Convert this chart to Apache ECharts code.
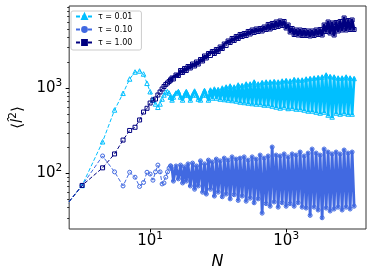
<!DOCTYPE html>
<html><head><meta charset="utf-8">
<script src="https://cdn.jsdelivr.net/npm/echarts@6/dist/echarts.min.js"></script>
<style>html,body{margin:0;padding:0;background:#fff}#c{width:373px;height:278px}</style>
</head><body><div id="c"></div>
<script>
// Shared N grid (x values)
const N_VALUES = [0.5,
  1,2,3,4,5,6,7,8,9,10,11,12,13,14,15,16,17,18,19,20,
  21,22,24,26,28,30,32,34,36,39,
  42,45,48,51,55,59,63,67,72,77,
  82,88,94,100,107,115,123,131,140,150,
  160,172,184,197,210,225,241,258,276,295,
  316,338,362,387,414,443,474,507,543,581,
  622,665,712,762,815,872,933,998,1068,1143,
  1223,1308,1400,1498,1603,1715,1835,1963,2101,2248,
  2405,2574,2754,2947,3153,3374,3610,3863,4133,4422,
  4732,5063,5418,5797,6203,6637,7102,7599,8131,8700,
  9309,9960];

// <l^2> for tau = 0.01
const TAU_001 = [36,
  72,235,556,873,1287,1555,1598,1473,1145,912,729,654,598,654,748,834,905,912,880,790,
  729,790,880,917,790,729,834,917,834,729,
  834,929,834,748,729,834,942,834,729,955,
  769,981,769,968,748,1008,738,1036,729,1064,
  719,1036,709,1094,690,1079,681,1124,671,1124,
  662,1186,654,1124,654,1170,636,1186,636,1186,
  619,1202,603,1186,587,1218,603,1235,579,1218,
  587,1269,571,1252,571,1252,556,1287,541,1304,
  541,1322,526,1340,512,1358,526,1434,485,1376,
  460,1358,512,1322,498,1322,512,1358,498,1322,
  498,1304];

// <l^2> for tau = 0.10
const TAU_010 = [36,
  72,160,104,71,103,90,70,78,103,98,83,104,125,104,75,77,90,104,115,122,
  112,81,122,86,125,77,119,81,129,71,
  132,65,122,71,140,60,129,57,143,65,
  136,54,147,60,140,53,151,57,143,50,
  156,56,147,48,151,54,156,47,143,51,
  156,45,147,50,164,34,151,44,160,41,
  204,46,164,40,160,45,169,41,156,44,
  169,41,164,45,178,40,160,39,173,32,
  193,40,173,37,164,30,193,39,178,36,
  169,38,178,40,169,37,188,40,173,38,
  178,41];

// <l^2> for tau = 1.00
const TAU_100 = [36,
  72,116,169,246,319,348,424,526,582,671,728,748,834,905,981,1050,1110,1155,1200,1252,
  1322,1287,1433,1414,1619,1534,1710,1619,1804,1733,
  1931,1829,2039,1931,2181,2095,2399,2272,2566,2431,
  2709,2566,2860,2709,3061,2939,3320,3188,3601,3458,
  3853,3650,4067,3853,4294,4067,4412,4179,4657,4353,
  4851,4533,4984,4657,5052,4721,5262,4917,5631,4984,
  5785,5191,6025,5333,6190,5480,6107,5121,5555,4595,
  5052,4294,4851,4236,4851,4179,4786,4179,4721,4123,
  4721,4179,4851,4294,4917,4236,5555,4657,6025,4472,
  5864,4236,5944,4721,6107,4851,6714,4851,6275,4917,
  6360,4917];

const SERIES_NAMES = ['τ = 0.01', 'τ = 0.10', 'τ = 1.00'];
const SERIES_COLORS = ['#00BFFF', '#4169E1', '#000080'];
const SERIES_SYMBOLS = ['triangle', 'circle', 'rect'];
const X_TICK_EXPONENTS = [1, 3];
const Y_TICK_EXPONENTS = [2, 3];
const Y_MINOR_TICKS = [30,40,50,60,70,80,90,200,300,400,500,600,700,800,900,2000,3000,4000,5000,6000,7000,8000,9000];
const X_LOG_RANGE = [-0.19, 4.173];
const Y_LOG_RANGE = [1.345, 3.968];
const DENSE_START_INDEX = 20; // index of N = 20 in N_VALUES: from here the points crowd together

const FONT = 'DejaVu Sans';
const pairs = vals => N_VALUES.map((n, i) => [n, vals[i]]);
const powLabel = v => '{b|10}{s|' + v + '}';
const richTick = {
  b: {fontSize: 15, fontFamily: FONT, color: '#000'},
  s: {fontSize: 10.5, fontFamily: FONT, color: '#000', padding: [0, 0, 10, 0]}
};

const seriesData = [TAU_001, TAU_010, TAU_100];
const series = [];
seriesData.forEach((vals, k) => {
  const all = pairs(vals);
  const common = {
    type: 'line',
    name: SERIES_NAMES[k],
    xAxisIndex: 0, yAxisIndex: 0,
    symbol: SERIES_SYMBOLS[k],
    symbolSize: k === 0 ? 4.5 : 4,
    showSymbol: true,
    clip: true,
    itemStyle: {color: 'rgba(0,0,0,0)', borderColor: SERIES_COLORS[k], borderWidth: 1},
    emphasis: {disabled: true},
    z: 2 + k
  };
  // sparse early part: dashed line as in the reference
  series.push(Object.assign({}, common, {
    data: all.slice(0, DENSE_START_INDEX + 1),
    lineStyle: {color: SERIES_COLORS[k], width: 1, type: [4, 2]}
  }));
  // crowded part: the dense dashes merge into a solid band
  series.push(Object.assign({}, common, {
    data: all.slice(DENSE_START_INDEX),
    lineStyle: {color: SERIES_COLORS[k], width: 2.8, type: 'solid', join: 'round', cap: 'round'}
  }));
});

const chart = echarts.init(document.getElementById('c'), null, {renderer: 'canvas'});
chart.setOption({
  animation: false,
  backgroundColor: '#fff',
  grid: {left: 67, top: 6, right: 7, bottom: 49, show: true, borderColor: '#333', borderWidth: 1},
  legend: {
    left: 71, top: 11, orient: 'vertical',
    padding: [1, 9, 3, 4], itemGap: 4, itemWidth: 17, itemHeight: 6,
    borderColor: '#cccccc', borderWidth: 1, borderRadius: 2,
    backgroundColor: 'rgba(255,255,255,0.8)',
    textStyle: {fontSize: 8, fontFamily: FONT, color: '#000', lineHeight: 9},
    data: SERIES_NAMES.map((nm, k) => ({name: nm, itemStyle: {color: SERIES_COLORS[k], borderColor: SERIES_COLORS[k]}}))
  },
  xAxis: [
    {type: 'log', logBase: 10, min: Math.pow(10, X_LOG_RANGE[0]), max: Math.pow(10, X_LOG_RANGE[1]),
     position: 'bottom', axisLine: {show: false}, axisTick: {show: false}, axisLabel: {show: false}, splitLine: {show: false}},
    {type: 'value', min: X_LOG_RANGE[0], max: X_LOG_RANGE[1], position: 'bottom',
     axisLine: {show: false},
     axisTick: {show: true, customValues: X_TICK_EXPONENTS, length: 3.5, lineStyle: {color: '#000', width: 1}},
     axisLabel: {show: true, customValues: X_TICK_EXPONENTS, margin: 2, formatter: powLabel, rich: richTick},
     splitLine: {show: false},
     name: 'N', nameLocation: 'middle', nameGap: 24,
     nameTextStyle: {fontSize: 16, fontStyle: 'italic', fontFamily: FONT, color: '#000'}}
  ],
  yAxis: [
    {type: 'log', logBase: 10, min: Math.pow(10, Y_LOG_RANGE[0]), max: Math.pow(10, Y_LOG_RANGE[1]),
     position: 'left', axisLine: {show: false}, axisTick: {show: false}, axisLabel: {show: false}, splitLine: {show: false}},
    {type: 'value', min: Y_LOG_RANGE[0], max: Y_LOG_RANGE[1], position: 'left',
     axisLine: {show: false},
     axisTick: {show: true, customValues: Y_TICK_EXPONENTS, length: 3.5, lineStyle: {color: '#000', width: 1}},
     axisLabel: {show: true, customValues: Y_TICK_EXPONENTS, margin: 7, formatter: powLabel, rich: richTick},
     splitLine: {show: false},
     name: '{a|⟨}{b|l\u0302}{c|2}{a|⟩}', nameLocation: 'middle', nameGap: 40, nameRotate: 90,
     nameTextStyle: {rich: {
       a: {fontSize: 15, fontFamily: FONT, color: '#000'},
       b: {fontSize: 15, fontFamily: FONT, fontStyle: 'italic', color: '#000'},
       c: {fontSize: 10.5, fontFamily: FONT, color: '#000', padding: [0, 0, 9, 0]}
     }}},
    {type: 'value', min: Y_LOG_RANGE[0], max: Y_LOG_RANGE[1], position: 'left',
     axisLine: {show: false},
     axisTick: {show: true, customValues: Y_MINOR_TICKS.map(v => Math.log10(v)), length: 2, lineStyle: {color: '#000', width: 0.8}},
     axisLabel: {show: false}, splitLine: {show: false}}
  ],
  series: series
});
</script></body></html>
